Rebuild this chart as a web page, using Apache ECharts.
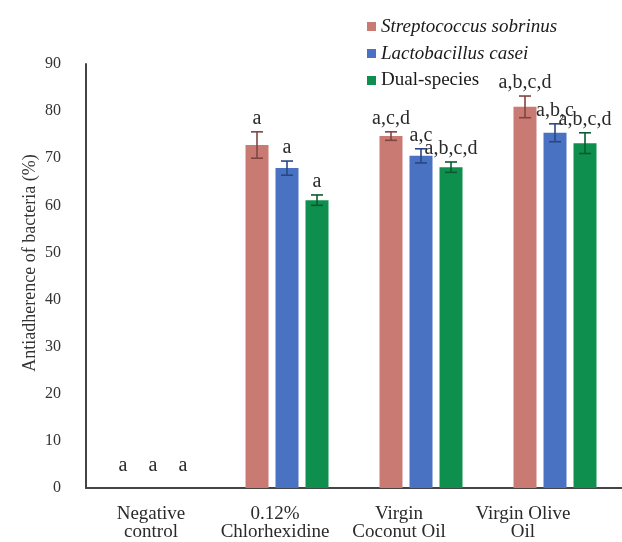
<!DOCTYPE html>
<html>
<head>
<meta charset="utf-8">
<script src="https://cdn.jsdelivr.net/npm/echarts@6/dist/echarts.min.js"></script>
<style>html,body{margin:0;padding:0;background:#fff}#c{width:622px;height:542px}</style>
</head>
<body>
<div id="c"></div>
<script>
const categories = ['Negative\ncontrol', '0.12%\nChlorhexidine', 'Virgin\nCoconut Oil', 'Virgin Olive\nOil'];
const seriesNames = ['Streptococcus sobrinus', 'Lactobacillus casei', 'Dual-species'];
const sobrinus = [0, 72.8, 74.7, 80.9];
const sobrinusErr = [0, 2.8, 0.9, 2.3];
const sobrinusLabels = ['a', 'a', 'a,c,d', 'a,b,c,d'];
const casei = [0, 67.9, 70.5, 75.4];
const caseiErr = [0, 1.5, 1.5, 1.9];
const caseiLabels = ['a', 'a', 'a,c', 'a,b,c'];
const dual = [0, 61.1, 68.1, 73.2];
const dualErr = [0, 1.1, 1.1, 2.2];
const dualLabels = ['a', 'a', 'a,b,c,d', 'a,b,c,d'];
const yTicks = [0, 10, 20, 30, 40, 50, 60, 70, 80, 90];

const barColors = ['#c97a72', '#4a72c2', '#0f8f4e'];
const errColors = ['#7f4640', '#2a4683', '#0a5a31'];
const BAR_W = 23, BAR_GAP = 7;
const FONT = '"Liberation Serif", "Times New Roman", serif';

const chart = echarts.init(document.getElementById('c'));
const values = [sobrinus, casei, dual];
const errs = [sobrinusErr, caseiErr, dualErr];
const labels = [sobrinusLabels, caseiLabels, dualLabels];

function errSeries(k) {
  const offset = (k - 1) * (BAR_W + BAR_GAP);
  return {
    type: 'custom',
    name: 'err' + k,
    xAxisIndex: 0, yAxisIndex: 0,
    z: 5,
    data: values[k].map((v, i) => [i, v, errs[k][i]]),
    renderItem: function (params, api) {
      const cat = api.value(0), v = api.value(1), e = api.value(2);
      const top = api.coord([cat, v + e]);
      const bot = api.coord([cat, v - e]);
      const x = top[0] + offset;
      const children = [];
      const st = { stroke: errColors[k], lineWidth: 1.6 };
      if (e > 0) {
        children.push({ type: 'line', shape: { x1: x, y1: top[1], x2: x, y2: bot[1] }, style: st });
        children.push({ type: 'line', shape: { x1: x - 6, y1: top[1], x2: x + 6, y2: top[1] }, style: st });
        children.push({ type: 'line', shape: { x1: x - 6, y1: bot[1], x2: x + 6, y2: bot[1] }, style: st });
      }
      children.push({
        type: 'text',
        style: {
          x: x, y: top[1] - (e > 0 ? 3 : 12),
          text: labels[k][params.dataIndex],
          align: 'center', verticalAlign: 'bottom',
          fontFamily: FONT, fontSize: 20, fill: '#2a2a2a'
        }
      });
      return { type: 'group', children: children };
    }
  };
}

const option = {
  animation: false,
  textStyle: { fontFamily: FONT },
  legend: {
    orient: 'vertical',
    left: 362, top: 12,
    itemWidth: 9, itemHeight: 9, itemGap: 8,
    icon: 'rect',
    textStyle: { fontFamily: FONT, fontSize: 19, color: '#1a1a1a' },
    data: [
      { name: seriesNames[0], textStyle: { fontStyle: 'italic' } },
      { name: seriesNames[1], textStyle: { fontStyle: 'italic' } },
      { name: seriesNames[2] }
    ]
  },
  grid: [
    { left: 86, top: 64, bottom: 54, right: -4, containLabel: false },
    { left: 89, top: 64, bottom: 54, width: 496, containLabel: false }
  ],
  xAxis: [
    {
      type: 'category', gridIndex: 0, data: categories,
      axisLine: { lineStyle: { color: '#444', width: 2 } },
      axisTick: { show: false },
      axisLabel: { show: false }
    },
    {
      type: 'category', gridIndex: 1, data: categories,
      axisLine: { show: false },
      axisTick: { show: false },
      axisLabel: { fontFamily: FONT, fontSize: 19, color: '#2a2a2a', margin: 17, lineHeight: 18, interval: 0 }
    }
  ],
  yAxis: [
    {
      type: 'value', gridIndex: 0, min: 0, max: 90, interval: 10,
      name: 'Antiadherence of bacteria (%)',
      nameLocation: 'middle', nameGap: 47, nameRotate: 90,
      nameMoveOverlap: false,
      nameTextStyle: { fontFamily: FONT, fontSize: 18, color: '#333', padding: [0, 0, 0, 26] },
      axisLine: { show: true, lineStyle: { color: '#444', width: 2 } },
      axisTick: { show: false },
      splitLine: { show: false },
      axisLabel: {
        fontFamily: FONT, fontSize: 16, color: '#333', margin: 25,
        formatter: function (v) { return yTicks.indexOf(v) >= 0 ? String(v) : ''; }
      }
    },
    { type: 'value', gridIndex: 1, min: 0, max: 90, show: false }
  ],
  series: [
    { type: 'bar', name: seriesNames[0], data: sobrinus, barWidth: BAR_W, barGap: (BAR_GAP / BAR_W * 100) + '%', itemStyle: { color: barColors[0] } },
    { type: 'bar', name: seriesNames[1], data: casei, barWidth: BAR_W, barGap: (BAR_GAP / BAR_W * 100) + '%', itemStyle: { color: barColors[1] } },
    { type: 'bar', name: seriesNames[2], data: dual, barWidth: BAR_W, barGap: (BAR_GAP / BAR_W * 100) + '%', itemStyle: { color: barColors[2] } },
    errSeries(0), errSeries(1), errSeries(2)
  ]
};
chart.setOption(option);
</script>
</body>
</html>
